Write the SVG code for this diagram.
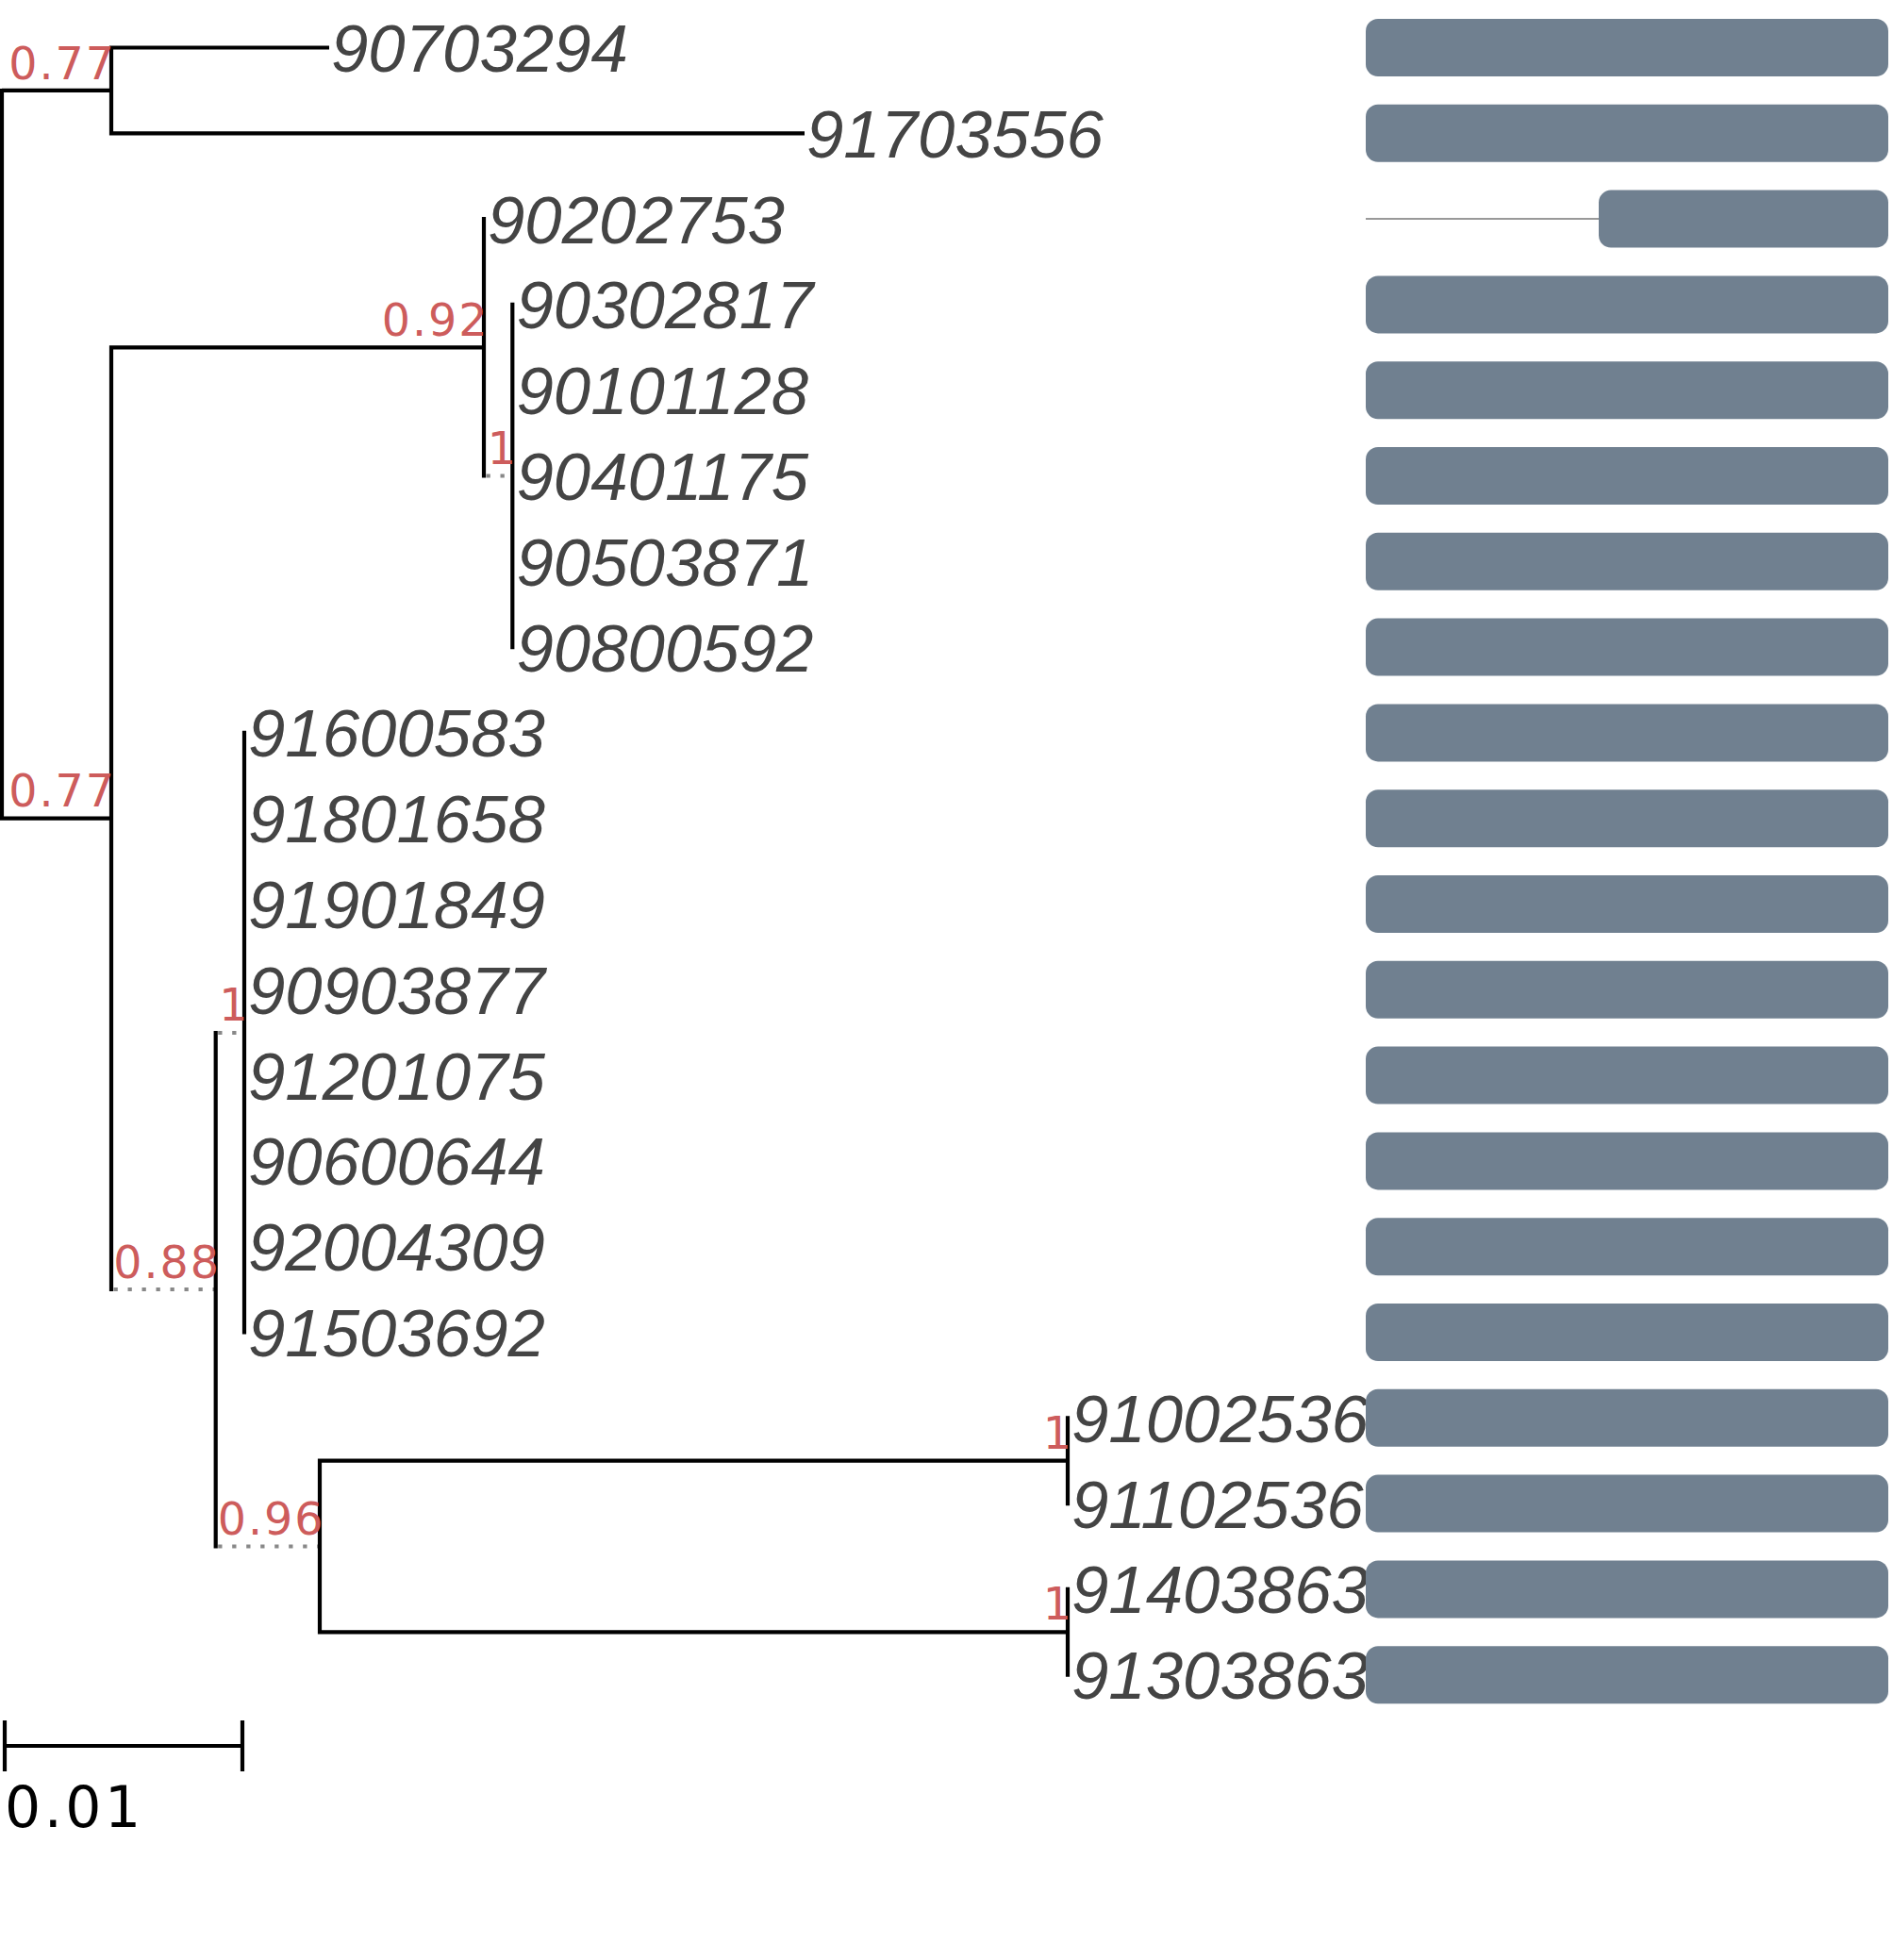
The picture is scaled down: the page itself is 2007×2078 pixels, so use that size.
<svg xmlns="http://www.w3.org/2000/svg" width="2007" height="2078" viewBox="0 0 2007 2078">
<style>
.br{stroke:#000;stroke-width:4.2;fill:none}
.dt{stroke:#888;stroke-width:4.2;stroke-dasharray:4.3 10.7;stroke-dashoffset:-2.5;fill:none}
.lf{font-family:"Liberation Sans",Arial,sans-serif;font-style:italic;font-size:70.8px;fill:#444}
.sp{font-family:"DejaVu Sans",sans-serif;font-size:47.5px;fill:#cd5c5c;text-anchor:end;letter-spacing:2px}
.bar{fill:#708090}
.gl{stroke:#777;stroke-width:1.5;fill:none}
</style>
<rect width="2007" height="2078" fill="#fff"/>
<g id="connectors">
<path class="br" d="M2 93.9V869.7M2 95.9H118M2 867.7H118"/>
<path class="br" d="M118 48.4V143.4M118 50.5H349M118 141.3H853"/>
<path class="br" d="M118 366.2V1369.1M118 368.3H513"/>
<path class="br" d="M513 230V506.6"/>
<path class="dt" d="M513 504.5H543.3"/>
<path class="br" d="M543.3 320.8V688.2"/>
<path class="dt" d="M118 1367H228.7"/>
<path class="br" d="M228.7 1092.9V1641.6"/>
<path class="dt" d="M228.7 1095H259"/>
<path class="br" d="M259 774.8V1414.6"/>
<path class="dt" d="M228.7 1639.5H339"/>
<path class="br" d="M339 1546.6V1732.4M339 1548.7H1132M339 1730.3H1132"/>
<path class="br" d="M1132 1501.2V1596.2M1132 1682.8V1777.8"/>
<path class="gl" d="M1448 232.1H1695"/>
</g>
<g id="support">
<text class="sp" x="123" y="83.5">0.77</text>
<text class="sp" x="123" y="855">0.77</text>
<text class="sp" x="518.5" y="355.8">0.92</text>
<text class="sp" x="549" y="491.5">1</text>
<text class="sp" x="234" y="1354.5">0.88</text>
<text class="sp" x="264.5" y="1082">1</text>
<text class="sp" x="344.5" y="1627">0.96</text>
<text class="sp" x="1138" y="1535.5">1</text>
<text class="sp" x="1138" y="1717">1</text>
</g>
<g id="n90703294"><text class="lf" x="351" y="76">90703294</text><rect class="bar" x="1448" y="20" width="554" height="61" rx="13"/></g>
<g id="n91703556"><text class="lf" x="855" y="166.8">91703556</text><rect class="bar" x="1448" y="110.8" width="554" height="61" rx="13"/></g>
<g id="n90202753"><text class="lf" x="517" y="257.6">90202753</text><rect class="bar" x="1695" y="201.6" width="307" height="61" rx="13"/></g>
<g id="n90302817"><text class="lf" x="547.5" y="348.4">90302817</text><rect class="bar" x="1448" y="292.4" width="554" height="61" rx="13"/></g>
<g id="n90101128"><text class="lf" x="547.5" y="439.2">90101128</text><rect class="bar" x="1448" y="383.2" width="554" height="61" rx="13"/></g>
<g id="n90401175"><text class="lf" x="547.5" y="530">90401175</text><rect class="bar" x="1448" y="474" width="554" height="61" rx="13"/></g>
<g id="n90503871"><text class="lf" x="547.5" y="620.8">90503871</text><rect class="bar" x="1448" y="564.8" width="554" height="61" rx="13"/></g>
<g id="n90800592"><text class="lf" x="547.5" y="711.6">90800592</text><rect class="bar" x="1448" y="655.6" width="554" height="61" rx="13"/></g>
<g id="n91600583"><text class="lf" x="263" y="802.4">91600583</text><rect class="bar" x="1448" y="746.4" width="554" height="61" rx="13"/></g>
<g id="n91801658"><text class="lf" x="263" y="893.2">91801658</text><rect class="bar" x="1448" y="837.2" width="554" height="61" rx="13"/></g>
<g id="n91901849"><text class="lf" x="263" y="984">91901849</text><rect class="bar" x="1448" y="928" width="554" height="61" rx="13"/></g>
<g id="n90903877"><text class="lf" x="263" y="1074.8">90903877</text><rect class="bar" x="1448" y="1018.8" width="554" height="61" rx="13"/></g>
<g id="n91201075"><text class="lf" x="263" y="1165.6">91201075</text><rect class="bar" x="1448" y="1109.6" width="554" height="61" rx="13"/></g>
<g id="n90600644"><text class="lf" x="263" y="1256.4">90600644</text><rect class="bar" x="1448" y="1200.4" width="554" height="61" rx="13"/></g>
<g id="n92004309"><text class="lf" x="263" y="1347.2">92004309</text><rect class="bar" x="1448" y="1291.2" width="554" height="61" rx="13"/></g>
<g id="n91503692"><text class="lf" x="263" y="1438">91503692</text><rect class="bar" x="1448" y="1382" width="554" height="61" rx="13"/></g>
<g id="n91002536"><text class="lf" x="1136" y="1528.8">91002536</text><rect class="bar" x="1448" y="1472.8" width="554" height="61" rx="13"/></g>
<g id="n91102536"><text class="lf" x="1136" y="1619.6">91102536</text><rect class="bar" x="1448" y="1563.6" width="554" height="61" rx="13"/></g>
<g id="n91403863"><text class="lf" x="1136" y="1710.4">91403863</text><rect class="bar" x="1448" y="1654.4" width="554" height="61" rx="13"/></g>
<g id="n91303863"><text class="lf" x="1136" y="1801.2">91303863</text><rect class="bar" x="1448" y="1745.2" width="554" height="61" rx="13"/></g>
<g id="scale">
<path class="br" d="M5 1851H257M5 1824V1878M257 1824V1878"/>
<text x="5" y="1937" font-family="DejaVu Sans, sans-serif" font-size="60" letter-spacing="3.5" fill="#000">0.01</text>
</g>
</svg>
